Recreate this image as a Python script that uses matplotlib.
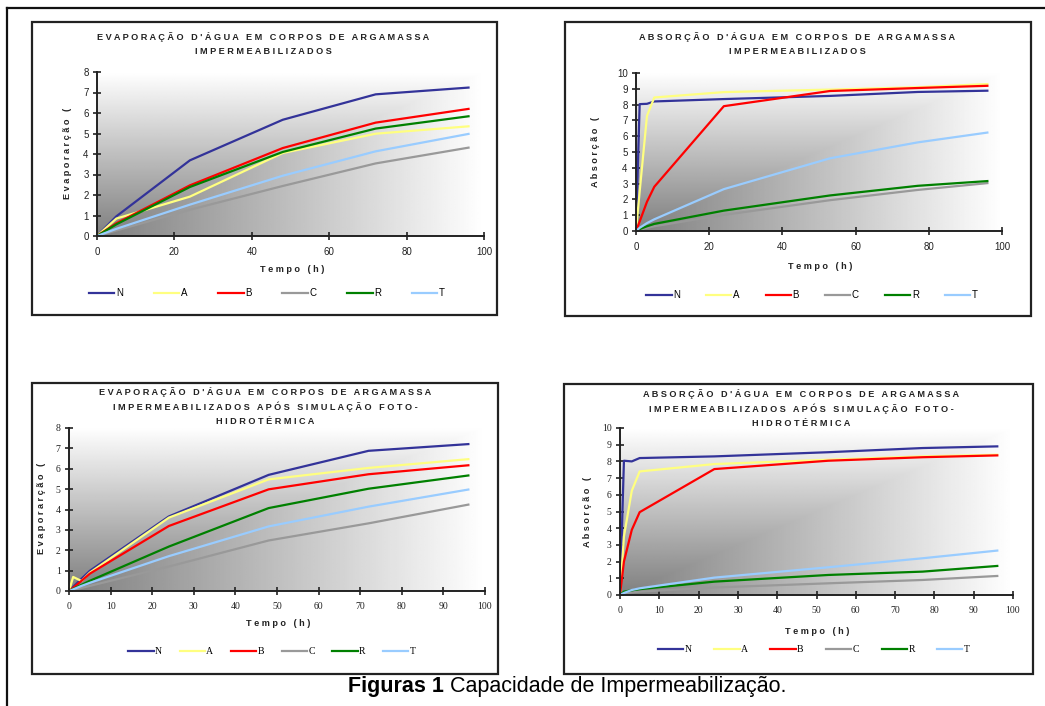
import numpy as np
import matplotlib.pyplot as plt
from matplotlib.patches import Rectangle
from matplotlib.lines import Line2D
from matplotlib.text import Annotation

W, H = 1045, 706

series = ['N', 'A', 'B', 'C', 'R', 'T']
colors = ['#333399', '#FFFF80', '#FF0000', '#999999', '#008000', '#99CCFF']

# evaporacao - impermeabilizados
t_ev1 = [0, 5, 24, 48, 72, 96]
ev1_N = [0, 0.96, 3.69, 5.67, 6.91, 7.24]
ev1_A = [0, 0.85, 1.92, 4.05, 4.99, 5.35]
ev1_B = [0, 0.62, 2.47, 4.29, 5.53, 6.20]
ev1_C = [0, 0.27, 1.28, 2.44, 3.54, 4.31]
ev1_R = [0, 0.57, 2.39, 4.10, 5.24, 5.84]
ev1_T = [0, 0.35, 1.53, 2.94, 4.13, 4.98]

# absorcao - impermeabilizados
t_ab1 = [0, 1, 3, 5, 24, 53, 77, 96]
ab1_N = [0, 8.03, 8.05, 8.20, 8.35, 8.55, 8.80, 8.88]
ab1_A = [0, 2.5, 7.29, 8.45, 8.79, 8.95, 9.10, 9.30]
ab1_B = [0, 0.6, 1.85, 2.80, 7.90, 8.86, 9.05, 9.19]
ab1_C = [0, 0.08, 0.20, 0.30, 1.02, 1.95, 2.60, 3.03]
ab1_R = [0, 0.12, 0.30, 0.45, 1.29, 2.25, 2.86, 3.16]
ab1_T = [0, 0.20, 0.50, 0.74, 2.65, 4.60, 5.61, 6.23]

# evaporacao - apos simulacao foto-hidrotermica
t_ev2 = [0, 1, 3, 5, 24, 48, 72, 96]
ev2_N = [0, 0.20, 0.60, 0.99, 3.66, 5.70, 6.88, 7.21]
ev2_A = [0, 0.69, 0.49, 0.90, 3.60, 5.48, 6.04, 6.47]
ev2_B = [0, 0.15, 0.50, 0.85, 3.19, 4.99, 5.73, 6.17]
ev2_C = [0, 0.05, 0.15, 0.25, 1.20, 2.48, 3.32, 4.24]
ev2_R = [0, 0.10, 0.30, 0.50, 2.18, 4.07, 5.02, 5.67]
ev2_T = [0, 0.08, 0.25, 0.40, 1.71, 3.17, 4.14, 4.98]

# absorcao - apos simulacao foto-hidrotermica
t_ab2 = [0, 1, 3, 5, 24, 53, 77, 96]
ab2_N = [0, 8.04, 8.00, 8.20, 8.30, 8.55, 8.80, 8.90]
ab2_A = [0, 3.50, 6.24, 7.40, 7.84, 8.10, 8.30, 8.40]
ab2_B = [0, 2.00, 3.90, 4.96, 7.54, 8.04, 8.25, 8.36]
ab2_C = [0, 0.10, 0.15, 0.20, 0.45, 0.70, 0.90, 1.14]
ab2_R = [0, 0.20, 0.28, 0.35, 0.80, 1.20, 1.40, 1.74]
ab2_T = [0, 0.12, 0.30, 0.40, 1.04, 1.66, 2.20, 2.66]

SANS = 'Liberation Sans'
SERIF = 'Liberation Serif'

fig = plt.figure(figsize=(W / 100, H / 100), dpi=100)
fig.patch.set_facecolor('white')


def spaced(s):
    return ' '.join(s)


def fx(x):
    return x / W


def fy(y):
    return 1 - y / H


def panel(box, axpx, t, ys, ymax, xstep, titles, title_xy, ylabel, ylab_xy,
          xlab_xy, leg_xy, colsp, tickfont):
    x0, y0, x1, y1 = box
    fig.add_artist(Rectangle((fx(x0), fy(y1)), (x1 - x0) / W, (y1 - y0) / H,
                             transform=fig.transFigure, fill=False,
                             lw=1.6, edgecolor='#222222'))
    a0, b0, a1, b1 = axpx
    ax = fig.add_axes([fx(a0), fy(b1), (a1 - a0) / W, (b1 - b0) / H])

    # fundo em degrade
    gx, gy = np.meshgrid(np.linspace(0, 1, 200), np.linspace(0, 1, 200))
    ax.imshow(np.maximum(gx, gy), extent=[0, 100, 0, ymax], origin='lower',
              cmap='gray', vmin=-1.0, vmax=1.0, aspect='auto', zorder=0,
              interpolation='bilinear')

    lines = []
    for name, y, c in zip(series, ys, colors):
        ln, = ax.plot(t, y, color=c, lw=1.6, label=name, zorder=2)
        lines.append(ln)

    ax.set_xlim(0, 100)
    ax.set_ylim(0, ymax)
    ax.set_xticks(np.arange(0, 101, xstep))
    ax.set_yticks(np.arange(0, ymax + 1, 1))
    for s in ['top', 'right']:
        ax.spines[s].set_visible(False)
    for s in ['left', 'bottom']:
        ax.spines[s].set_linewidth(1.4)
        ax.spines[s].set_color('#222222')
        ax.spines[s].set_zorder(3)
    ax.tick_params(direction='inout', length=6, width=1.2, colors='#222222',
                   labelsize=7, labelfontfamily=tickfont, labelcolor='#222222')
    ax.tick_params(axis='y', pad=3)
    ax.tick_params(axis='x', pad=5)

    for i, txt in enumerate(titles):
        fig.text(fx(title_xy[0]), fy(title_xy[1] + i * 14.5), spaced(txt),
                 ha='center', va='center', fontsize=6.6, fontweight='bold',
                 family=SANS, color='#222222')
    fig.text(fx(ylab_xy[0]), fy(ylab_xy[1]), spaced(ylabel), rotation=90,
             ha='center', va='center', fontsize=6.6, fontweight='bold',
             family=SANS, color='#222222')
    fig.text(fx(xlab_xy[0]), fy(xlab_xy[1]), spaced('Tempo (h)'),
             ha='center', va='center', fontsize=6.6, fontweight='bold',
             family=SANS, color='#222222')
    ax.legend(handles=lines, ncol=6, loc='center',
              bbox_to_anchor=(fx(leg_xy[0]), fy(leg_xy[1])),
              bbox_transform=fig.transFigure, frameon=False,
              prop={'family': tickfont, 'size': 7},
              handlelength=2.6, handletextpad=0.15, columnspacing=colsp,
              borderaxespad=0, borderpad=0)
    return ax


panel((32, 22, 497, 315), (97, 72, 484, 236), t_ev1,
      [ev1_N, ev1_A, ev1_B, ev1_C, ev1_R, ev1_T], 8, 20,
      ["EVAPORAÇÃO D'ÁGUA EM CORPOS DE ARGAMASSA", "IMPERMEABILIZADOS"],
      (263, 37), 'Evaporarção (', (67, 153), (292, 270), (267, 293), 3.2, SANS)

panel((565, 22, 1031, 316), (636, 73, 1002, 231), t_ab1,
      [ab1_N, ab1_A, ab1_B, ab1_C, ab1_R, ab1_T], 10, 20,
      ["ABSORÇÃO D'ÁGUA EM CORPOS DE ARGAMASSA", "IMPERMEABILIZADOS"],
      (797, 37), 'Absorção (', (595, 152), (820, 267), (812, 295), 2.7, SANS)

panel((32, 383, 498, 674), (69, 428, 485, 591), t_ev2,
      [ev2_N, ev2_A, ev2_B, ev2_C, ev2_R, ev2_T], 8, 10,
      ["EVAPORAÇÃO D'ÁGUA EM CORPOS DE ARGAMASSA",
       "IMPERMEABILIZADOS APÓS SIMULAÇÃO FOTO-", "HIDROTÉRMICA"],
      (265, 392), 'Evaporarção (', (42, 508), (278, 623), (272, 652), 1.8, SERIF)

panel((564, 384, 1033, 674), (620, 428, 1013, 595), t_ab2,
      [ab2_N, ab2_A, ab2_B, ab2_C, ab2_R, ab2_T], 10, 10,
      ["ABSORÇÃO D'ÁGUA EM CORPOS DE ARGAMASSA",
       "IMPERMEABILIZADOS APÓS SIMULAÇÃO FOTO-", "HIDROTÉRMICA"],
      (801, 394), 'Absorção (', (587, 512), (817, 631), (814, 650), 2.3, SERIF)

# moldura externa (so topo e esquerda visiveis)
fig.add_artist(Line2D([fx(7), fx(7)], [0, fy(8)], transform=fig.transFigure,
                      color='#111111', lw=1.6))
fig.add_artist(Line2D([fx(7), 1], [fy(8), fy(8)], transform=fig.transFigure,
                      color='#111111', lw=1.6))

# legenda da figura
cap = fig.text(fx(348), fy(692), 'Figuras 1', fontsize=15.5, fontweight='bold',
               family=SANS, ha='left', va='baseline')
fig.add_artist(Annotation(' Capacidade de Impermeabilização.', xy=(1, 0),
                          xycoords=cap, fontsize=15.5, family=SANS,
                          ha='left', va='bottom'))

fig.savefig('out.png', dpi=100)
